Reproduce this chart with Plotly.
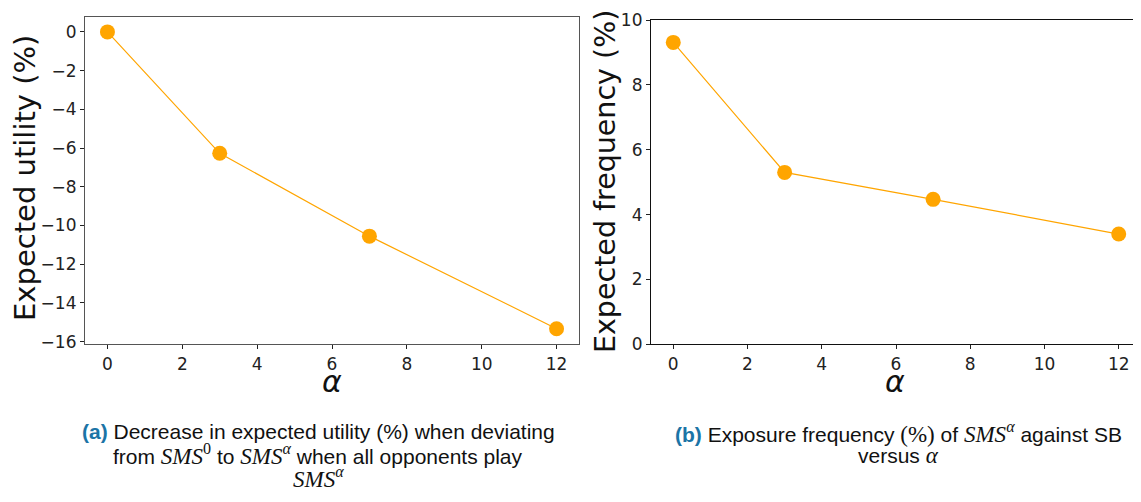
import plotly.graph_objects as go

alpha = [0, 3, 7, 12]
utility = [0.0, -6.27, -10.55, -15.33]
frequency = [9.31, 5.30, 4.47, 3.40]
util_ticks = [0, -2, -4, -6, -8, -10, -12, -14, -16]
freq_ticks = [0, 2, 4, 6, 8, 10]
x_ticks = [0, 2, 4, 6, 8, 10, 12]

OFF = 8  # page body margin
W, H = 1141 - OFF, 502 - OFF
ORANGE = "#FFA500"
TICKFONT = dict(family="DejaVu Sans", size=17, color="#222")

fig = go.Figure()
fig.add_trace(go.Scatter(x=alpha, y=utility, mode="lines+markers",
                         line=dict(color=ORANGE, width=1.2),
                         marker=dict(color=ORANGE, size=15), xaxis="x", yaxis="y", cliponaxis=False))
fig.add_trace(go.Scatter(x=alpha, y=frequency, mode="lines+markers",
                         line=dict(color=ORANGE, width=1.2),
                         marker=dict(color=ORANGE, size=15), xaxis="x2", yaxis="y2", cliponaxis=False))

def px(x):
    return min(1.0, (x - OFF) / W)

def py(y):
    return 1 - (y - OFF) / H

common_x = dict(tickmode="array", tickvals=x_ticks, range=[-0.6, 12.6], showgrid=False,
                zeroline=False, ticks="outside", ticklen=4, tickcolor="#222",
                tickfont=TICKFONT, showline=True, mirror=True, automargin=False)

fig.update_layout(
    width=W, height=H, margin=dict(l=0, r=0, t=0, b=0, autoexpand=False),
    plot_bgcolor="white", paper_bgcolor="white", showlegend=False,
    xaxis=dict(domain=[px(85), px(579)], anchor="y", linecolor="#555", linewidth=1.2, **common_x),
    yaxis=dict(domain=[py(344), py(17)], anchor="x", range=[-16.12, 0.77],
               tickmode="array", tickvals=util_ticks, showgrid=False, zeroline=False,
               ticks="outside", ticklen=4, tickcolor="#222", tickfont=TICKFONT,
               showline=True, mirror=True, linecolor="#555", linewidth=1.2, automargin=False),
    xaxis2=dict(domain=[px(651), px(1141)], anchor="y2", linecolor="#111", linewidth=1.2, **common_x),
    yaxis2=dict(domain=[py(344.3), py(20)], anchor="x2", range=[0, 10],
                tickmode="array", tickvals=freq_ticks, showgrid=False, zeroline=False,
                ticks="outside", ticklen=4, tickcolor="#222", tickfont=TICKFONT,
                showline=True, mirror=True, linecolor="#111", linewidth=1.2, automargin=False),
)

ann = []
# axis titles
ann.append(dict(x=px(25), y=py(178), text="Expected utility (%)", textangle=-90,
                font=dict(family="DejaVu Sans", size=29, color="#111")))
ann.append(dict(x=px(605), y=py(182), text="Expected frequency (%)", textangle=-90,
                font=dict(family="DejaVu Sans", size=28.5, color="#111")))
ann.append(dict(x=px(332), y=py(381), text="<i>α</i>",
                font=dict(family="DejaVu Sans", size=30, color="#111")))
ann.append(dict(x=px(895), y=py(381), text="<i>α</i>",
                font=dict(family="DejaVu Sans", size=30, color="#111")))

MATH = "font-family:'Liberation Serif';font-size:23px"
def sms(sup):
    return f"<span style=\"{MATH}\"><i>SMS</i><sup><i>{sup}</i></sup></span>" if sup != "0" else \
        f"<span style=\"{MATH}\"><i>SMS</i><sup>0</sup></span>"

BLUE = "#1b74a6"
cap_font = dict(family="Liberation Sans", size=21, color="#111")
left_lines = [
    (431, f"<span style=\"color:{BLUE}\"><b>(a)</b></span> Decrease in expected utility (%) when deviating"),
    (454, f"from {sms('0')} to {sms('α')} when all opponents play"),
    (477, sms('α')),
]
right_lines = [
    (432, f"<span style=\"color:{BLUE}\"><b>(b)</b></span> Exposure frequency <span style=\"{MATH}\">(%)</span> of {sms('α')} against SB"),
    (455, f"versus <span style=\"{MATH}\"><i>α</i></span>"),
]
for y, t in left_lines:
    ann.append(dict(x=px(318), y=py(y), text=t, font=cap_font))
for y, t in right_lines:
    ann.append(dict(x=px(898), y=py(y), text=t, font=cap_font))

for a in ann:
    a.update(xref="paper", yref="paper", showarrow=False, xanchor="center", yanchor="middle")
fig.update_layout(annotations=ann)

fig.write_html("out.html")
